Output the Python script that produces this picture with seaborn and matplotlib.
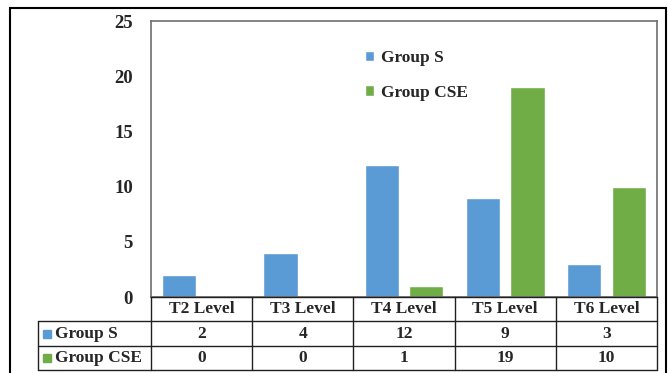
import matplotlib
matplotlib.use("Agg")
import matplotlib.pyplot as plt
import matplotlib.transforms as mtransforms
from matplotlib.patches import Rectangle
import seaborn as sns
import pandas as pd

# chart data
levels = ['T2 Level', 'T3 Level', 'T4 Level', 'T5 Level', 'T6 Level']
groups = ['Group S', 'Group CSE']
group_s = [2, 4, 12, 9, 3]
group_cse = [0, 0, 1, 19, 10]
y_ticks = [0, 5, 10, 15, 20, 25]
colors = ['#5B9BD5', '#70AD47']

df = pd.DataFrame({
    'level': levels * 2,
    'group': [groups[0]] * len(levels) + [groups[1]] * len(levels),
    'count': group_s + group_cse,
})

sns.set_style('white')
plt.rcParams['font.family'] = ['Liberation Serif', 'DejaVu Serif']
plt.rcParams['font.weight'] = 'bold'

W, H = 668, 373
fig = plt.figure(figsize=(W / 100, H / 100), dpi=100)
ax = fig.add_axes([151 / W, 1 - 297 / H, (657 - 151) / W, (297 - 21) / H])

sns.barplot(data=df, x='level', y='count', hue='group', hue_order=groups,
            palette=colors, width=0.88, gap=0.23, saturation=1, ax=ax)

ax.set_xlim(-0.5, len(levels) - 0.5)
ax.set_ylim(0, 25)
ax.set_yticks(y_ticks)
ax.set_yticklabels([str(v) for v in y_ticks], fontsize=13.5, fontweight='bold')
ax.tick_params(axis='y', length=0, pad=13)
ax.set_xticks([])
ax.set_xlabel('')
ax.set_ylabel('')
for s in ax.spines.values():
    s.set_color('#6e6e6e')
    s.set_linewidth(1.2)

sns.move_legend(ax, 'upper left', bbox_to_anchor=(0.405, 0.925), frameon=False,
                title=None, fontsize=12.5, handlelength=0.55, handleheight=0.55,
                handletextpad=0.4, labelspacing=1.05, borderpad=0)
for t in ax.get_legend().get_texts():
    t.set_fontweight('bold')

# data table under the axis
def fy(ypix):
    return 1 - ypix / H

tr = mtransforms.blended_transform_factory(ax.transData, fig.transFigure)
trf = fig.transFigure
row_y = [297, 321, 346, 370]
col_x = [i - 0.5 for i in range(len(levels) + 1)]
lc = '#202020'
fs = 12.5

# horizontal lines
fig.add_artist(plt.Line2D([col_x[0], col_x[-1]], [fy(297)] * 2, transform=tr, color=lc, lw=1))
for yp in row_y[1:]:
    fig.add_artist(plt.Line2D([38 / W, 657 / W], [fy(yp)] * 2, transform=trf, color=lc, lw=1))
# vertical lines
for xv in col_x:
    fig.add_artist(plt.Line2D([xv, xv], [fy(297), fy(370)], transform=tr, color=lc, lw=1))
fig.add_artist(plt.Line2D([38 / W] * 2, [fy(321), fy(370)], transform=trf, color=lc, lw=1))

# header and values
for j, lv in enumerate(levels):
    fig.text(j, fy(309), lv, transform=tr, ha='center', va='center', fontsize=fs, fontweight='bold')
    fig.text(j, fy(333.5), str(group_s[j]), transform=tr, ha='center', va='center', fontsize=fs, fontweight='bold')
    fig.text(j, fy(358), str(group_cse[j]), transform=tr, ha='center', va='center', fontsize=fs, fontweight='bold')

for g, c, yc in zip(groups, colors, [333.5, 358]):
    fig.add_artist(Rectangle((43 / W, fy(yc + 4)), 8 / W, 8 / H, transform=trf, color=c))
    fig.text(55 / W, fy(yc), g, transform=trf, ha='left', va='center', fontsize=fs, fontweight='bold')

# outer chart frame
fig.add_artist(Rectangle((10 / W, -0.05), (666 - 10) / W, fy(8) + 0.05, transform=trf,
                         fill=False, edgecolor='black', lw=1.5))

fig.savefig('out.png', dpi=100)
